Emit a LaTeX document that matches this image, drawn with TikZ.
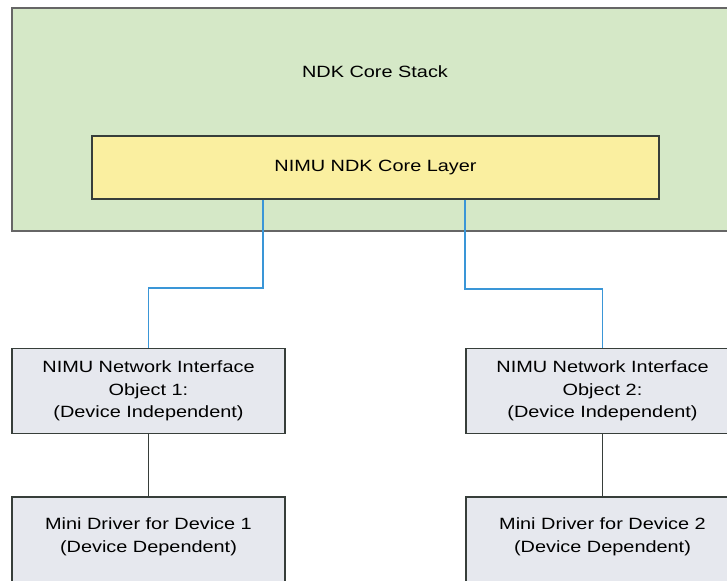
\documentclass[tikz,border=0pt]{standalone}
\usepackage{fontspec}
\setmainfont{Liberation Sans}[FakeStretch=1.22]
\usepackage{tikz}
\usetikzlibrary{positioning}

\definecolor{stackgreen}{RGB}{213,232,199}
\definecolor{layeryellow}{RGB}{250,239,160}
\definecolor{boxgray}{RGB}{230,232,238}
\definecolor{linkblue}{RGB}{58,150,215}
\definecolor{edgegray}{RGB}{55,62,58}

\tikzset{
  blk/.style={draw=edgegray, line width=1.4pt, align=center,
    font=\fontsize{16.3}{22.5}\selectfont},
  nifbox/.style={blk, fill=boxgray, minimum width=273, minimum height=85},
  link/.style={linkblue, line width=1.7pt},
  stem/.style={edgegray, line width=1.5pt}
}

\begin{document}
\begin{tikzpicture}[x=1pt,y=-1pt]
\useasboundingbox[fill=white] (0,0) rectangle (727,580);
\clip (0,0) rectangle (727,580);

% Stack
\node[blk, fill=stackgreen, draw=gray!80!black, line width=1.8pt,
  minimum width=728, minimum height=223] (core) at (376,119.5) {};
\node[font=\fontsize{16.3}{22.5}\selectfont] (corelbl) at (375,72) {NDK Core Stack};
\node[blk, fill=layeryellow, minimum width=567, minimum height=63]
  (layer) at (375.5,167.5) {NIMU NDK Core Layer};

% Interface objects
\node[nifbox] (nif1) at (148.5,391)
  {NIMU Network Interface\\Object 1:\\(Device Independent)};
\node[nifbox] (nif2) at (602.5,391)
  {NIMU Network Interface\\Object 2:\\(Device Independent)};

% Drivers
\node[nifbox, minimum height=90,
  label={[yshift=5pt, align=center, font=\fontsize{16.3}{23.5}\selectfont]center:Mini Driver for Device 1\\(Device Dependent)}]
  (drv1) at (148.5,542) {};
\node[nifbox, minimum height=90,
  label={[yshift=5pt, align=center, font=\fontsize{16.3}{23.5}\selectfont]center:Mini Driver for Device 2\\(Device Dependent)}]
  (drv2) at (602.5,542) {};

% Links
\coordinate (tapL) at ([xshift=-112.5pt]layer.south);
\draw[link] (tapL) -- ++(0,88) -| (nif1.north);
\draw[link] (layer.south -| nif2.west) -- ++(0,89) -| (nif2.north);
\draw[stem] (nif1) -- (drv1);
\draw[stem] (nif2) -- (drv2);
\end{tikzpicture}
\end{document}
